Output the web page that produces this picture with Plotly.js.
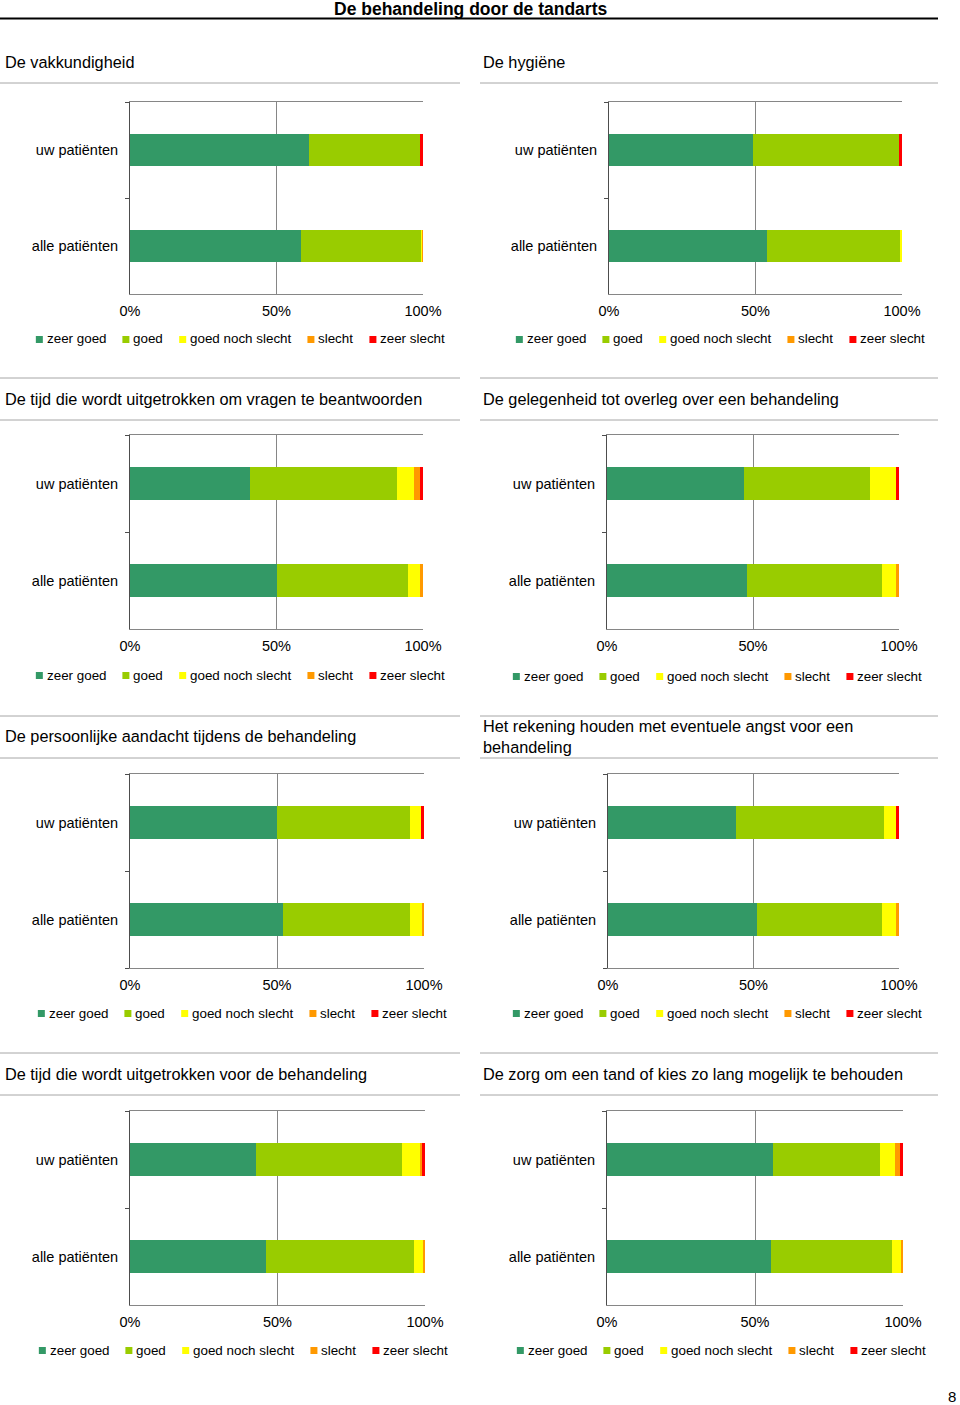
<!DOCTYPE html>
<html>
<head>
<meta charset="utf-8">
<script src="https://cdn.plot.ly/plotly-3.0.1.min.js"></script>
<style>
  html, body { margin: 0; padding: 0; background: #ffffff; overflow: hidden; }
  #chart { width: 960px; height: 1405px; }
</style>
</head>
<body>
<div id="chart"></div>
<script>
// ---------------- data ----------------
const mainTitle = 'De behandeling door de tandarts';
const categories = ['alle patiënten', 'uw patiënten'];
const ratings = ['zeer goed', 'goed', 'goed noch slecht', 'slecht', 'zeer slecht'];
const ratingColors = ['#339966', '#99CC00', '#FFFF00', '#FF9900', '#FF0000'];
const xTickVals = [0, 50, 100];
const xTickText = ['0%', '50%', '100%'];
const pageNumber = '8';

const panelTitles = [
  'De vakkundigheid',
  'De hygiëne',
  'De tijd die wordt uitgetrokken om vragen te beantwoorden',
  'De gelegenheid tot overleg over een behandeling',
  'De persoonlijke aandacht tijdens de behandeling',
  'Het rekening houden met eventuele angst voor een<br>behandeling',
  'De tijd die wordt uitgetrokken voor de behandeling',
  'De zorg om een tand of kies zo lang mogelijk te behouden'
];

// percentages per rating: [zeer goed, goed, goed noch slecht, slecht, zeer slecht]
const uwPatienten = [
  [61.0, 38.0, 0.0, 0.0, 1.0],
  [49.0, 50.0, 0.0, 0.0, 1.0],
  [41.0, 50.1, 5.9, 1.9, 1.1],
  [46.9, 43.2, 9.0, 0.0, 0.9],
  [50.0, 45.1, 4.0, 0.0, 0.9],
  [44.1, 50.9, 4.1, 0.0, 0.9],
  [42.6, 49.7, 6.0, 0.7, 1.0],
  [56.1, 36.0, 5.2, 1.8, 0.9]
];
const allePatienten = [
  [58.4, 40.8, 0.6, 0.2, 0.0],
  [53.9, 45.3, 0.8, 0.0, 0.0],
  [50.0, 45.0, 4.1, 0.9, 0.0],
  [48.0, 46.1, 5.0, 0.9, 0.0],
  [52.0, 43.1, 4.1, 0.8, 0.0],
  [51.1, 43.2, 4.8, 0.9, 0.0],
  [46.1, 50.1, 3.0, 0.8, 0.0],
  [55.4, 41.0, 2.9, 0.7, 0.0]
];

// ---------------- layout geometry (pixels) ----------------
const W = 960, H = 1405;
const FONT = 'Liberation Sans, Arial, Helvetica, sans-serif';
const LEG_FONT_SIZE = 13.4;
const plotX = [[130, 423], [609, 902], [130, 423], [607, 899], [130, 424], [608, 899], [130, 425], [607, 903]];
const rowY = [[102, 294], [435, 629], [774, 968], [1111, 1305]];
const titleY = [62, 399, 736, 1074];
const lineY = [[83], [378, 420], [716, 758], [1053, 1095]];
const legendY = [[339, 339], [675, 676], [1013, 1013], [1350, 1350]];
const legendX = [[240, 720], [240, 717], [242, 717], [243, 721]];
const colX = [[0, 460], [480, 938]];

const px = x => x / W;
const py = y => 1 - y / H;

// text width measurement for the legend entries
const ctx = document.createElement('canvas').getContext('2d');
ctx.font = LEG_FONT_SIZE + 'px "Liberation Sans", Arial, sans-serif';
const textW = s => ctx.measureText(s).width;

const traces = [];
const layout = {
  width: W, height: H,
  margin: {l: 0, r: 0, t: 0, b: 0, autoexpand: false},
  paper_bgcolor: '#ffffff',
  plot_bgcolor: '#ffffff',
  barmode: 'stack',
  showlegend: false,
  font: {family: FONT, size: 14, color: '#000000'},
  annotations: [],
  shapes: []
};

// main title
layout.annotations.push({
  text: '<b>' + mainTitle + '</b>',
  xref: 'paper', yref: 'paper',
  x: px(470), xanchor: 'center',
  y: py(9), yanchor: 'middle',
  showarrow: false, borderpad: 0,
  font: {family: FONT, size: 17.5, color: '#000000'}
});
layout.shapes.push({type: 'line', xref: 'paper', yref: 'paper',
  x0: 0, x1: px(938), y0: py(18.5), y1: py(18.5), line: {color: '#000000', width: 2}});

const SQ = 7, SQ_GAP = 3, ITEM_GAP = 17;

for (let p = 0; p < 8; p++) {
  const row = Math.floor(p / 2), col = p % 2;
  const suffix = p === 0 ? '' : String(p + 1);
  const xa = 'x' + suffix, ya = 'y' + suffix;

  ratings.forEach((r, i) => {
    traces.push({
      type: 'bar', orientation: 'h',
      name: r,
      y: categories,
      x: [allePatienten[p][i], uwPatienten[p][i]],
      marker: {color: ratingColors[i], line: {width: 0}},
      width: 0.335,
      xaxis: xa, yaxis: ya,
      showlegend: false,
      hoverinfo: 'name+x'
    });
  });

  layout['xaxis' + suffix] = {
    domain: [px(plotX[p][0]), px(plotX[p][1])],
    anchor: ya,
    range: [0, 100],
    tickmode: 'array', tickvals: xTickVals, ticktext: xTickText,
    showgrid: true, gridcolor: '#868686', gridwidth: 1,
    zeroline: false,
    showline: true, linecolor: '#868686', linewidth: 1, mirror: true,
    ticks: '', ticklabelstandoff: 4,
    tickfont: {family: FONT, size: 14.5, color: '#000000'},
    fixedrange: true
  };
  layout['yaxis' + suffix] = {
    domain: [py(rowY[row][1]), py(rowY[row][0])],
    anchor: xa,
    type: 'category',
    categoryorder: 'array', categoryarray: categories,
    range: [-0.5, 1.5],
    showgrid: false, zeroline: false,
    showline: true, linecolor: '#4d4d4d', linewidth: 1,
    ticks: 'outside', ticklen: 4, tickcolor: '#4d4d4d', tickson: 'boundaries',
    ticklabelstandoff: 8,
    tickfont: {family: FONT, size: 14.5, color: '#000000'},
    fixedrange: true
  };

  // custom legend row (square + label per rating), centred under the panel
  const widths = ratings.map(textW);
  const total = widths.reduce((a, b) => a + b, 0) + ratings.length * (SQ + SQ_GAP) + (ratings.length - 1) * ITEM_GAP;
  let cx = legendX[row][col] - total / 2;
  const ly = legendY[row][col];
  ratings.forEach((r, i) => {
    layout.shapes.push({type: 'rect', xref: 'paper', yref: 'paper',
      x0: px(cx), x1: px(cx + SQ), y0: py(ly - SQ / 2 + 0.5), y1: py(ly + SQ / 2 + 0.5),
      fillcolor: ratingColors[i], line: {width: 0}});
    layout.annotations.push({
      text: r, xref: 'paper', yref: 'paper',
      x: px(cx + SQ + SQ_GAP), xanchor: 'left',
      y: py(ly), yanchor: 'middle',
      showarrow: false, borderpad: 0,
      font: {family: FONT, size: LEG_FONT_SIZE, color: '#000000'}
    });
    cx += SQ + SQ_GAP + widths[i] + ITEM_GAP;
  });

  // panel title
  layout.annotations.push({
    text: panelTitles[p],
    xref: 'paper', yref: 'paper',
    x: px(col === 0 ? 4 : 482), xanchor: 'left',
    y: py(titleY[row]), yanchor: 'middle',
    align: 'left', showarrow: false, borderpad: 0,
    font: {family: FONT, size: 16.3, color: '#000000'}
  });
  // separator lines
  lineY[row].forEach(ly2 => {
    layout.shapes.push({type: 'line', xref: 'paper', yref: 'paper',
      x0: px(colX[col][0]), x1: px(colX[col][1]), y0: py(ly2), y1: py(ly2),
      line: {color: '#a6a6a6', width: 1}});
  });
}

layout.annotations.push({
  text: pageNumber, xref: 'paper', yref: 'paper',
  x: px(952), y: py(1396), xanchor: 'center', yanchor: 'middle',
  showarrow: false, font: {family: FONT, size: 15, color: '#000000'}
});

Plotly.newPlot('chart', traces, layout, {displayModeBar: false, staticPlot: true});
</script>
</body>
</html>
